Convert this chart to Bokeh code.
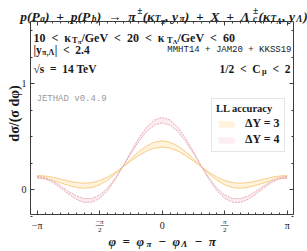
import numpy as np
from bokeh.plotting import figure
from bokeh.models import Label, Legend, LegendItem, FixedTicker, LinearAxis, Range1d
from bokeh.embed import file_html
from bokeh.resources import INLINE

# ---------------- data ----------------
phi = [k * np.pi / 16 for k in range(-16, 17)]

dy3_hi = [0.132, 0.128, 0.116, 0.099, 0.080, 0.067, 0.060, 0.066, 0.085, 0.118, 0.162,
          0.217, 0.290, 0.357, 0.411, 0.447, 0.460, 0.447, 0.411, 0.357, 0.290, 0.217,
          0.162, 0.118, 0.085, 0.066, 0.060, 0.067, 0.080, 0.099, 0.116, 0.128, 0.132]
dy3_lo = [0.108, 0.102, 0.086, 0.063, 0.040, 0.021, 0.012, 0.020, 0.045, 0.088, 0.148,
          0.215, 0.270, 0.321, 0.363, 0.391, 0.400, 0.391, 0.363, 0.321, 0.270, 0.215,
          0.148, 0.088, 0.045, 0.020, 0.012, 0.021, 0.040, 0.063, 0.086, 0.102, 0.108]
dy4_hi = [0.125, 0.114, 0.082, 0.035, -0.016, -0.060, -0.085, -0.085, -0.051, 0.014, 0.108,
          0.223, 0.357, 0.484, 0.588, 0.656, 0.680, 0.656, 0.588, 0.484, 0.357, 0.223,
          0.108, 0.014, -0.051, -0.085, -0.085, -0.060, -0.016, 0.035, 0.082, 0.114, 0.125]
dy4_lo = [0.115, 0.102, 0.066, 0.015, -0.042, -0.092, -0.121, -0.119, -0.083, -0.010, 0.096,
          0.221, 0.341, 0.454, 0.548, 0.608, 0.630, 0.608, 0.548, 0.454, 0.341, 0.221,
          0.096, -0.010, -0.083, -0.119, -0.121, -0.092, -0.042, 0.015, 0.066, 0.102, 0.115]

series_labels = ["\u0394Y = 3", "\u0394Y = 4"]
legend_title = "LL accuracy"

x_tick_vals = [-np.pi, -np.pi / 2, 0.0, np.pi / 2, np.pi]
x_tick_num = ["\u2212\u03c0", "\u2212\u03c0", "0", "\u03c0", "\u03c0"]
x_tick_den = [None, "2", None, "2", None]
y_tick_vals = [0, 1]
y_tick_labels = {0: "0", 1: "1"}

# plot box limits (data) and outer canvas
XB = (-3.31, 3.30)
YB = (-0.235, 1.585)

SERIF = "Liberation Serif"
MONO = "Liberation Mono"
TXT = "#1a1a1a"
FRAME = "#3c3c3c"

W, H = 307, 251
BOX_L, BOX_R, BOX_T, BOX_B = 30, 293, 21, 214   # pixel box of the axes inside the canvas
sx = (XB[1] - XB[0]) / (BOX_R - BOX_L)
sy = (YB[1] - YB[0]) / (BOX_B - BOX_T)
x_range = Range1d(XB[0] - BOX_L * sx, XB[1] + (W - BOX_R) * sx)
y_range = Range1d(YB[0] - (H - BOX_B) * sy, YB[1] + BOX_T * sy)

p = figure(width=W, height=H, x_range=x_range, y_range=y_range,
           x_axis_type=None, y_axis_type=None,
           output_backend="svg", toolbar_location=None, min_border=0)
p.min_border_left = p.min_border_right = p.min_border_top = p.min_border_bottom = 0
p.grid.visible = False
p.outline_line_color = None
p.background_fill_color = "white"
p.border_fill_color = "white"

# ---------------- bands ----------------
r3 = p.varea(x=phi, y1=dy3_lo, y2=dy3_hi, fill_color="#fff3de", fill_alpha=1.0)
p.line(phi, dy3_hi, line_color="#f8c878", line_width=1, line_alpha=0.9)
p.line(phi, dy3_lo, line_color="#f8c878", line_width=1, line_alpha=0.9)
r4 = p.varea(x=phi, y1=dy4_lo, y2=dy4_hi, fill_color="#fbeaec", fill_alpha=0.8)
p.line(phi, dy4_hi, line_color="#e6aab3", line_width=1, line_dash="2 1")
p.line(phi, dy4_lo, line_color="#e6aab3", line_width=1, line_dash="2 1")

# ---------------- axes (fixed at the box edges) ----------------
xminor = [k * np.pi / 16 for k in range(-16, 17)]
yminor = [-0.25 + 0.25 * k for k in range(0, 8)]


def make_axis(ticks, minor, loc, bounds, labels=None):
    ax = LinearAxis(ticker=FixedTicker(ticks=ticks, minor_ticks=minor),
                    fixed_location=loc, bounds=bounds)
    ax.axis_line_color = FRAME
    ax.axis_line_width = 1
    ax.major_tick_in = 4
    ax.major_tick_out = 0
    ax.minor_tick_in = 2
    ax.minor_tick_out = 0
    ax.major_tick_line_color = FRAME
    ax.minor_tick_line_color = FRAME
    if labels is None:
        ax.major_label_overrides = {float(t): "" for t in ticks}
    else:
        ax.major_label_overrides = labels
        ax.major_label_text_font = SERIF
        ax.major_label_text_font_size = "10px"
        ax.major_label_text_color = TXT
        ax.major_label_standoff = 4
    return ax


p.add_layout(make_axis(x_tick_vals, xminor, YB[0], XB), "below")
p.add_layout(make_axis(x_tick_vals, xminor, YB[1], XB), "above")
p.add_layout(make_axis(y_tick_vals, yminor, XB[0], YB, y_tick_labels), "left")
p.add_layout(make_axis(y_tick_vals, yminor, XB[1], YB), "right")

# ---------------- rich text helper ----------------
EMW = {' ': .25, '\u2002': .5, '(': .333, ')': .333, '+': .57, '=': .57, '<': .57,
       '\u2212': .57, '\u2192': 1.0, '\u00b1': .57, '/': .28, ',': .25, '.': .25, '|': .22,
       '\u03c0': .55, '\u03ba': .52, '\u039b': .70, '\u03c3': .56, '\u03c6': .62,
       '\u03bc': .56, '\u0394': .64, '\u221a': .55, 'i': .28, 'l': .28, 'f': .33, 'r': .40,
       't': .33, 's': .39, 'm': .80, 'w': .72, 'V': .72, 'M': .92, 'G': .76, 'T': .64,
       'C': .70, 'J': .48, 'P': .60, 'X': .68, 'K': .75, 'S': .56, 'H': .76, 'A': .72,
       'e': .44, 'c': .44, 'a': .48}


def cw(ch):
    if ch in EMW:
        return EMW[ch]
    if ch.isdigit():
        return .5
    if ch.isupper():
        return .7
    return .5


def tw(s, fs, bold=True):
    return sum(cw(c) for c in s) * fs * (1.04 if bold else 1.0)


LV = {0: (1.0, 0.0), "sub": (0.7, -0.22), "sup": (0.7, 0.40), "subsub": (0.55, -0.34)}


def rich(x, y, pieces, fs, style="bold", align="left", color=TXT, font=SERIF):
    """x, y: canvas pixels (y measured downward from the top) of the text baseline."""
    bold = "bold" in style
    plan = []
    total = 0.0
    for text, lvl in pieces:
        if lvl == "subsup":
            sub, sup = text
            w = max(tw(sub, .7 * fs, bold), tw(sup, .7 * fs, bold))
            plan.append(([(sub, .7, -.22), (sup, .7, .40)], w))
        else:
            sc, off = LV[lvl]
            w = tw(text, sc * fs, bold)
            plan.append(([(text, sc, off)], w))
        total += w
    cx = x - (total / 2 if align == "center" else (total if align == "right" else 0))
    for parts, w in plan:
        for text, sc, off in parts:
            p.add_layout(Label(x=cx, y=(H - y) + off * fs, x_units="screen", y_units="screen",
                               text=text, text_font=font, text_font_size=f"{sc * fs:.1f}px",
                               text_font_style=style, text_color=color,
                               text_align="left", text_baseline="alphabetic"))
        cx += w


def plain(x, y, text, fs, font=SERIF, style="normal", color=TXT, align="left",
          baseline="alphabetic", angle=0.0):
    p.add_layout(Label(x=x, y=H - y, x_units="screen", y_units="screen", text=text,
                       text_font=font, text_font_size=f"{fs}px", text_font_style=style,
                       text_color=color, text_align=align, text_baseline=baseline,
                       angle=angle))


E = "\u2002"
# title
rich(163.5, 16, [("p(P", 0), ("a", "sub"), (f"){E}+{E}p(P", 0), ("b", "sub"),
                 (f"){E}\u2192{E}\u03c0", 0), ("\u00b1", "sup"), ("(\u03ba", 0), ("T", "sub"),
                 ("\u03c0", "subsub"), (", y", 0), ("\u03c0", "sub"),
                 (f"){E}+{E}X{E}+{E}\u039b", 0), (("c", "\u00b1"), "subsup"), ("(\u03ba", 0),
                 ("T", "sub"), ("\u039b", "subsub"), (", y", 0), ("\u039b", "sub"), (")", 0)],
     13.5, style="bold italic", align="center")

# info texts
rich(33, 37.3, [(f"10{E}<{E}\u03ba", 0), ("T", "sub"), ("\u03c0", "subsub"),
                (f"/GeV{E}<{E}20{E}<{E}\u03ba", 0), ("T", "sub"), ("\u039b", "subsub"),
                (f"/GeV{E}<{E}60", 0)], 12)
rich(33, 49.3, [("|y", 0), ("\u03c0,\u039b", "sub"), (f"|{E}<{E}2.4", 0)], 11.5)
rich(33, 68, [(f"\u221as{E}={E}14 TeV", 0)], 11.5)
rich(291, 68, [(f"1/2{E}<{E}C", 0), ("\u03bc", "sub"), (f"{E}<{E}2", 0)], 11.5, align="right")
plain(291, 49.3, "MMHT14 + JAM20 + KKSS19", 9, font=MONO, align="right")
plain(36, 98.3, "JETHAD v0.4.9", 9, font=MONO, color="#999999")

# axis titles
rich(162, 240.5, [(f"\u03c6{E}={E}\u03c6", 0), ("\u03c0", "sub"), (f"{E}\u2212{E}\u03c6", 0),
                  ("\u039b", "sub"), (f"{E}\u2212{E}\u03c0", 0)], 13, style="bold italic",
     align="center")
plain(14, 113, "d\u03c3/(\u03c3 d\u03c6)", 14, style="bold", align="center",
      baseline="middle", angle=np.pi / 2)

# x tick labels (x in data units, y in canvas pixels)
for xv, num, den in zip(x_tick_vals, x_tick_num, x_tick_den):
    if den is None:
        p.add_layout(Label(x=xv, y=H - 224.5, x_units="data", y_units="screen", text=num,
                           text_font=SERIF, text_font_size="10px", text_color=TXT,
                           text_align="center", text_baseline="alphabetic"))
    else:
        p.add_layout(Label(x=xv, y=H - 221.5, x_units="data", y_units="screen", text=num,
                           text_font=SERIF, text_font_size="7px", text_color=TXT,
                           text_align="center", text_baseline="alphabetic"))
        p.add_layout(Label(x=xv, y=H - 223.5, x_units="data", y_units="screen", text="\u2014",
                           text_font=SERIF, text_font_size="8px", text_color=TXT,
                           text_align="center", text_baseline="middle"))
        p.add_layout(Label(x=xv, y=H - 229, x_units="data", y_units="screen", text=den,
                           text_font=SERIF, text_font_size="7px", text_color=TXT,
                           text_align="center", text_baseline="alphabetic"))

# legend (location = bottom-left corner, pixels from the canvas bottom-left)
legend = Legend(items=[LegendItem(label=series_labels[0], renderers=[r3]),
                       LegendItem(label=series_labels[1], renderers=[r4])],
                location=(211, H - 152), title=legend_title)
legend.title_text_font = SERIF
legend.title_text_font_style = "bold"
legend.title_text_font_size = "10.5px"
legend.title_text_color = TXT
legend.title_standoff = 2
legend.label_text_font = SERIF
legend.label_text_font_style = "bold"
legend.label_text_font_size = "12px"
legend.label_text_color = TXT
legend.glyph_width = 20
legend.glyph_height = 8
legend.label_height = 14
legend.label_standoff = 9
legend.spacing = 1
legend.padding = 4
legend.margin = 0
legend.border_line_color = "#cccccc"
legend.border_line_width = 1
legend.background_fill_color = "white"
legend.background_fill_alpha = 1.0
p.add_layout(legend)

open("out.html", "w").write(file_html(p, INLINE))
